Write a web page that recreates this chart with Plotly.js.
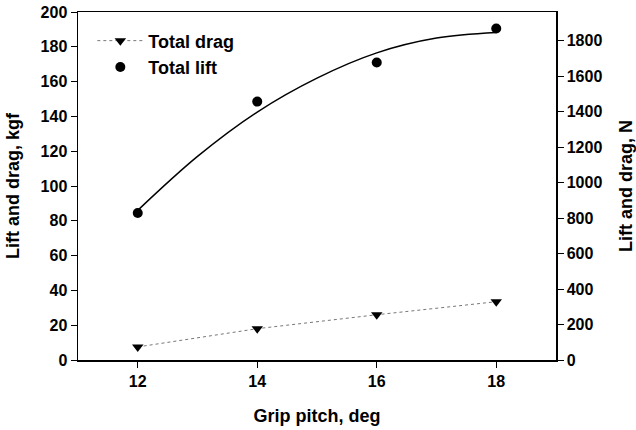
<!DOCTYPE html>
<html>
<head>
<meta charset="utf-8">
<script src="https://cdn.plot.ly/plotly-3.0.1.min.js"></script>
<style>html,body{margin:0;padding:0;background:#fff;}#chart{width:636px;height:430px;}</style>
</head>
<body>
<div id="chart"></div>
<script>
// Data
const gripPitch = [12, 14, 16, 18];
const totalDrag = [7.5, 18, 26, 33.5];      // kgf
const totalLift = [84.5, 148.5, 171, 190.5]; // kgf
// Fitted lift curve as drawn in the reference (read at each degree)
const fitPitch = [12, 13, 14, 15, 16, 17, 18];
const fitLift = [86, 117, 142.5, 162, 176.5, 185, 188.2];
const kgfToN = 9.80665;
const leftTicks = [0, 20, 40, 60, 80, 100, 120, 140, 160, 180, 200];
const rightTicks = [0, 200, 400, 600, 800, 1000, 1200, 1400, 1600, 1800];
const xTicks = [12, 14, 16, 18];

const font = {family: 'Liberation Sans, Arial, sans-serif', color: '#000'};

const traces = [
  {
    x: gripPitch, y: totalDrag, name: 'Total drag', type: 'scatter', mode: 'lines+markers',
    line: {color: '#777', width: 1, dash: 'dot'},
    marker: {symbol: 'triangle-down', size: 10, color: '#000'}
  },
  {
    x: gripPitch, y: totalLift, name: 'Total lift', type: 'scatter', mode: 'markers',
    marker: {symbol: 'circle', size: 10, color: '#000'}
  },
  {
    x: fitPitch, y: fitLift, type: 'scatter', mode: 'lines', showlegend: false,
    line: {color: '#000', width: 1.5, shape: 'spline'}, hoverinfo: 'skip'
  },
  {
    x: [gripPitch[0]], y: [0], yaxis: 'y2', type: 'scatter', mode: 'markers',
    marker: {opacity: 0}, showlegend: false, hoverinfo: 'skip'
  }
];

const layout = {
  width: 636, height: 430,
  margin: {l: 78, r: 80, t: 12, b: 70},
  paper_bgcolor: '#fff', plot_bgcolor: '#fff',
  font: Object.assign({size: 16}, font),
  showlegend: true,
  legend: {
    x: 0.03, y: 0.97, xanchor: 'left', yanchor: 'top',
    bgcolor: 'rgba(0,0,0,0)', tracegroupgap: 0, itemwidth: 46,
    font: Object.assign({size: 18, weight: 'bold'}, font)
  },
  xaxis: {
    range: [11, 19], tickvals: xTicks, ticktext: xTicks.map(String),
    showline: true, linecolor: '#000', linewidth: 1.5, mirror: true,
    ticks: 'outside', ticklen: 6, tickcolor: '#000', showgrid: false, zeroline: false,
    tickfont: Object.assign({size: 16, weight: 'bold'}, font),
    title: {text: 'Grip pitch, deg', font: Object.assign({size: 18, weight: 'bold'}, font), standoff: 20}
  },
  yaxis: {
    range: [0, 200], tickvals: leftTicks, ticktext: leftTicks.map(String),
    showline: true, linecolor: '#000', linewidth: 1.5,
    ticks: 'outside', ticklen: 6, tickcolor: '#000', showgrid: false, zeroline: false,
    tickfont: Object.assign({size: 16, weight: 'bold'}, font),
    title: {text: 'Lift and drag, kgf', font: Object.assign({size: 18, weight: 'bold'}, font), standoff: 16}
  },
  yaxis2: {
    overlaying: 'y', side: 'right',
    range: [0, 200 * kgfToN], tickvals: rightTicks, ticktext: rightTicks.map(String),
    showline: true, linecolor: '#000', linewidth: 1.5,
    ticks: 'outside', ticklen: 6, tickcolor: '#000', showgrid: false, zeroline: false,
    tickfont: Object.assign({size: 16, weight: 'bold'}, font),
    title: {text: 'Lift and drag, N', font: Object.assign({size: 18, weight: 'bold'}, font), standoff: 19}
  }
};

Plotly.newPlot('chart', traces, layout, {displayModeBar: false, staticPlot: true});
</script>
</body>
</html>
